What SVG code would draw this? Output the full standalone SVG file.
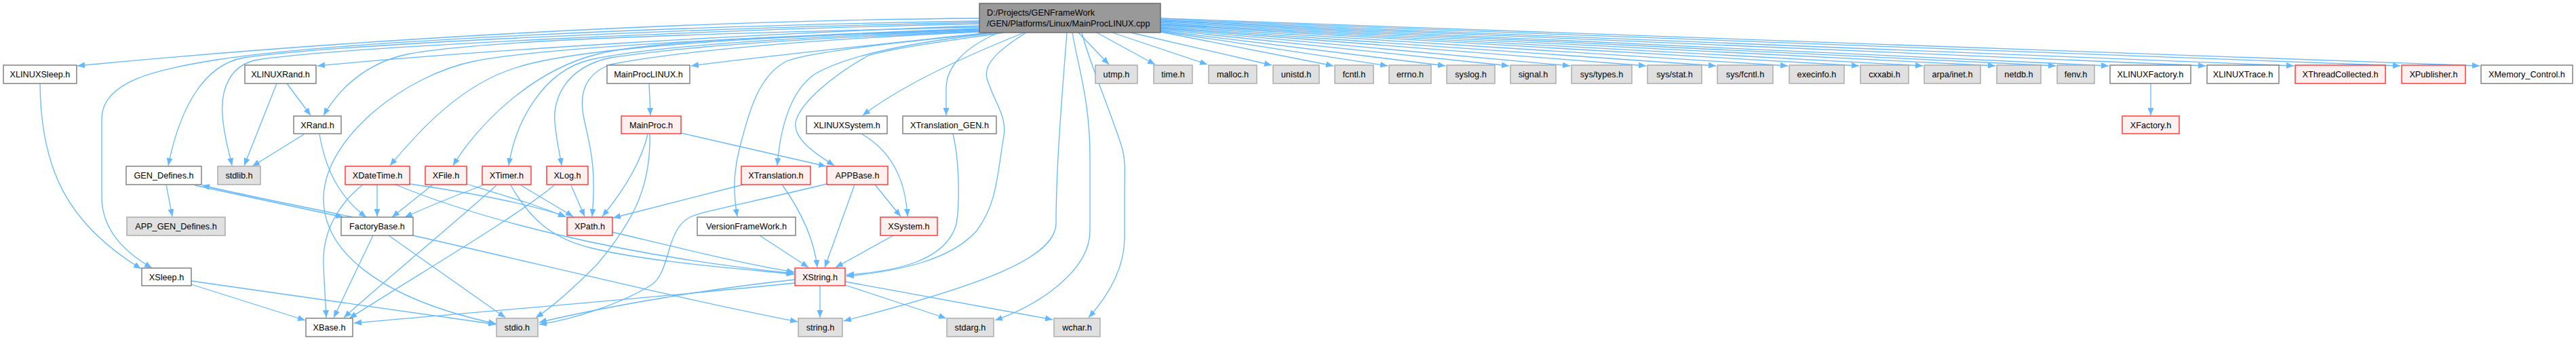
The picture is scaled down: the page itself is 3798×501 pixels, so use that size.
<svg xmlns="http://www.w3.org/2000/svg" width="3798" height="501" viewBox="0 0 3798 501">
<defs>
<marker id="ah" markerUnits="userSpaceOnUse" markerWidth="12" markerHeight="9" refX="11" refY="4.5" orient="auto">
<path d="M0,0 L11,4.5 L0,9 z" fill="#63b8ff"/>
</marker>
<style>
.e{fill:none;stroke:#63b8ff;stroke-width:1.3;marker-end:url(#ah)}
.n rect{fill:#ffffff;stroke:#7a7a7a;stroke-width:1.4}
.g rect{fill:#e0e0e0;stroke:#a8a8a8;stroke-width:1.4}
.r rect{fill:#fff0f0;stroke:#ff3030;stroke-width:1.4}
.root rect{fill:#999999;stroke:#666666;stroke-width:1.4}
text{font-family:"Liberation Sans",Arial,sans-serif;font-size:12.7px;fill:#000;text-anchor:middle}
.root text{text-anchor:start}
</style>
</defs>
<rect width="3798" height="501" fill="#ffffff"/>
<g id="edges">
<path class="e" d="M1444,27 C1000,30 500,60 114,97"/>
<path class="e" d="M1444,31 C1000,38 500,60 320,88 C230,102 150,120 150,175 L150,290 C150,340 185,372 224,395"/>
<path class="e" d="M1444,33 C1000,42 500,65 360,85 C300,95 265,160 248,244"/>
<path class="e" d="M1444,35 C1000,45 500,70 380,88 C340,95 325,130 328,170 C330,200 338,225 342,244"/>
<path class="e" d="M1444,38 C1100,50 700,75 468,97"/>
<path class="e" d="M1444,40 C1000,50 700,60 600,80 C540,93 500,130 477,170"/>
<path class="e" d="M1444,42 C1100,55 800,70 700,90 C600,110 480,200 477,290 C475,370 560,440 731,477"/>
<path class="e" d="M1444,43 C1100,55 850,70 760,100 C680,125 620,190 575,244"/>
<path class="e" d="M1444,44 C1100,55 950,62 880,80 C780,105 700,190 668,244"/>
<path class="e" d="M1444,45 C1150,55 950,70 870,88 C800,105 760,180 750,244"/>
<path class="e" d="M1444,46 C1150,58 1000,70 900,85 C830,100 815,150 818,180 C820,205 825,225 828,244"/>
<path class="e" d="M1445,47 C1200,58 1000,75 900,95 C860,110 855,140 860,170 C868,210 880,240 873,319"/>
<path class="e" d="M1460,48 C1300,65 1150,80 1019,97"/>
<path class="e" d="M1465,48 C1350,60 1200,75 1160,90 C1120,110 1105,160 1090,220 C1080,260 1082,290 1087,319"/>
<path class="e" d="M1470,48 C1350,62 1250,80 1200,110 C1165,135 1150,190 1146,244"/>
<path class="e" d="M1480,48 C1400,60 1320,70 1280,82 C1230,110 1180,150 1173,180 C1170,205 1200,225 1230,244"/>
<path class="e" d="M1510,48 C1430,80 1330,125 1272,170"/>
<path class="e" d="M1473,48 C1420,70 1395,100 1395,130 L1395,170"/>
<path class="e" d="M1513,48 C1470,75 1450,95 1455,115 C1465,150 1485,170 1480,200 C1470,260 1470,300 1440,340 C1400,385 1320,400 1248,407"/>
<path class="e" d="M1573,48 C1565,150 1557,250 1557,330 C1555,380 1450,420 1244,473"/>
<path class="e" d="M1581,48 C1590,100 1607,150 1607,230 L1607,340 C1607,400 1530,450 1467,472"/>
<path class="e" d="M1595,48 C1605,90 1640,170 1655,220 C1660,240 1658,260 1658,280 L1658,350 C1658,400 1630,440 1605,468"/>
<path class="e" d="M1590,48 L1635,95"/>
<path class="e" d="M1617,48 L1703,95"/>
<path class="e" d="M1640,48 L1780,95"/>
<path class="e" d="M1667,48 L1875,96"/>
<path class="e" d="M1711,47 L1966,97"/>
<path class="e" d="M1711,46 L2046,97"/>
<path class="e" d="M1711,45 L2131,97"/>
<path class="e" d="M1711,43.5 L2225,97"/>
<path class="e" d="M1711,42 L2315,97"/>
<path class="e" d="M1711,41 L2427,97"/>
<path class="e" d="M1711,40 L2530,97"/>
<path class="e" d="M1711,38.5 L2636,97"/>
<path class="e" d="M1711,37 L2741,97"/>
<path class="e" d="M1711,36 L2835,97"/>
<path class="e" d="M1711,35 L2942,97"/>
<path class="e" d="M1711,33.5 L3031,97"/>
<path class="e" d="M1711,32 L3109,97"/>
<path class="e" d="M1711,31 L3252,97"/>
<path class="e" d="M1711,30 L3382,97"/>
<path class="e" d="M1711,28.5 L3539,97"/>
<path class="e" d="M1711,27 L3656,97"/>
<path class="e" d="M59,123 C60,250 100,330 208,396"/>
<path class="e" d="M245,272 L254,319"/>
<path class="e" d="M287,273 L506,320"/>
<path class="e" d="M520,320 C450,305 360,288 298,273"/>
<path class="e" d="M282,419 L450,472"/>
<path class="e" d="M282,414 C400,430 600,460 731,478"/>
<path class="e" d="M423,123 L458,170"/>
<path class="e" d="M408,123 L360,244"/>
<path class="e" d="M448,198 L372,245"/>
<path class="e" d="M471,198 C480,250 500,290 540,320"/>
<path class="e" d="M556,272 L556,319"/>
<path class="e" d="M535,272 C500,300 475,340 477,390 C478,420 480,445 481,468"/>
<path class="e" d="M583,272 C700,320 900,375 1170,403"/>
<path class="e" d="M604,271 C700,285 780,300 834,319"/>
<path class="e" d="M637,273 L578,320"/>
<path class="e" d="M688,271 C750,290 800,305 834,320"/>
<path class="e" d="M712,273 C680,285 630,305 597,320"/>
<path class="e" d="M732,273 C680,320 560,420 507,468"/>
<path class="e" d="M768,273 L845,319"/>
<path class="e" d="M753,273 C780,320 810,350 870,365 C950,385 1080,395 1171,404"/>
<path class="e" d="M842,273 L862,319"/>
<path class="e" d="M817,273 C760,320 640,390 515,469"/>
<path class="e" d="M550,347 L492,468"/>
<path class="e" d="M573,347 L745,468"/>
<path class="e" d="M609,347 C800,390 1000,440 1176,474"/>
<path class="e" d="M903,342 C1000,365 1100,390 1171,401"/>
<path class="e" d="M957,123 L959,170"/>
<path class="e" d="M955,198 C945,240 920,280 888,319"/>
<path class="e" d="M958,198 C960,280 930,330 880,390 C840,430 810,455 790,468"/>
<path class="e" d="M1004,196 L1218,245"/>
<path class="e" d="M1096,272 L904,321"/>
<path class="e" d="M1153,272 C1180,310 1200,350 1205,394"/>
<path class="e" d="M1260,272 L1216,394"/>
<path class="e" d="M1290,272 L1328,319"/>
<path class="e" d="M1219,271 C1100,300 1040,310 1017,320 C980,340 990,400 960,420 C920,445 850,470 795,478"/>
<path class="e" d="M1270,197 C1310,220 1335,260 1338,319"/>
<path class="e" d="M1317,347 L1232,394"/>
<path class="e" d="M1405,197 C1415,240 1415,300 1410,330 C1395,385 1320,400 1248,405"/>
<path class="e" d="M1120,347 L1192,394"/>
<path class="e" d="M1209,421 L1209,468"/>
<path class="e" d="M1172,412 C1050,425 900,450 795,475"/>
<path class="e" d="M1172,417 C950,440 700,460 522,476"/>
<path class="e" d="M1246,420 L1395,469"/>
<path class="e" d="M1246,415 L1552,471"/>
<path class="e" d="M3171,123 L3171,170"/>
</g>
<g id="root" class="root"><rect x="1444" y="5" width="267" height="43"/><text x="1455" y="23">D:/Projects/GENFrameWork</text><text x="1455" y="39">/GEN/Platforms/Linux/MainProcLINUX.cpp</text></g>
<g id="XLINUXSleep" class="n"><rect x="5" y="96" width="108" height="27"/><text x="59" y="114">XLINUXSleep.h</text></g>
<g id="XLINUXRand" class="n"><rect x="361" y="96" width="105" height="27"/><text x="413.5" y="114">XLINUXRand.h</text></g>
<g id="MainProcLINUX" class="n"><rect x="895" y="96" width="122" height="27"/><text x="956" y="114">MainProcLINUX.h</text></g>
<g id="utmp" class="g"><rect x="1615" y="96" width="62" height="27"/><text x="1646" y="114">utmp.h</text></g>
<g id="time" class="g"><rect x="1701" y="96" width="57" height="27"/><text x="1729.5" y="114">time.h</text></g>
<g id="malloc" class="g"><rect x="1782" y="96" width="71" height="27"/><text x="1817.5" y="114">malloc.h</text></g>
<g id="unistd" class="g"><rect x="1877" y="96" width="68" height="27"/><text x="1911" y="114">unistd.h</text></g>
<g id="fcntl" class="g"><rect x="1968" y="96" width="57" height="27"/><text x="1996.5" y="114">fcntl.h</text></g>
<g id="errno" class="g"><rect x="2048" y="96" width="62" height="27"/><text x="2079" y="114">errno.h</text></g>
<g id="syslog" class="g"><rect x="2133" y="96" width="71" height="27"/><text x="2168.5" y="114">syslog.h</text></g>
<g id="signal" class="g"><rect x="2227" y="96" width="67" height="27"/><text x="2260.5" y="114">signal.h</text></g>
<g id="systypes" class="g"><rect x="2317" y="96" width="89" height="27"/><text x="2361.5" y="114">sys/types.h</text></g>
<g id="sysstat" class="g"><rect x="2429" y="96" width="80" height="27"/><text x="2469" y="114">sys/stat.h</text></g>
<g id="sysfcntl" class="g"><rect x="2532" y="96" width="82" height="27"/><text x="2573" y="114">sys/fcntl.h</text></g>
<g id="execinfo" class="g"><rect x="2638" y="96" width="81" height="27"/><text x="2678.5" y="114">execinfo.h</text></g>
<g id="cxxabi" class="g"><rect x="2743" y="96" width="71" height="27"/><text x="2778.5" y="114">cxxabi.h</text></g>
<g id="arpainet" class="g"><rect x="2837" y="96" width="83" height="27"/><text x="2878.5" y="114">arpa/inet.h</text></g>
<g id="netdb" class="g"><rect x="2944" y="96" width="65" height="27"/><text x="2976.5" y="114">netdb.h</text></g>
<g id="fenv" class="g"><rect x="3033" y="96" width="55" height="27"/><text x="3060.5" y="114">fenv.h</text></g>
<g id="XLINUXFactory" class="n"><rect x="3111" y="96" width="119" height="27"/><text x="3170.5" y="114">XLINUXFactory.h</text></g>
<g id="XLINUXTrace" class="n"><rect x="3254" y="96" width="106" height="27"/><text x="3307" y="114">XLINUXTrace.h</text></g>
<g id="XThreadCollected" class="r"><rect x="3384" y="96" width="133" height="27"/><text x="3450.5" y="114">XThreadCollected.h</text></g>
<g id="XPublisher" class="r"><rect x="3541" y="96" width="94" height="27"/><text x="3588" y="114">XPublisher.h</text></g>
<g id="XMemory_Control" class="n"><rect x="3658" y="96" width="135" height="27"/><text x="3725.5" y="114">XMemory_Control.h</text></g>
<g id="XRand" class="n"><rect x="433" y="171" width="70" height="26"/><text x="468" y="188.5">XRand.h</text></g>
<g id="MainProc" class="r"><rect x="916" y="171" width="88" height="26"/><text x="960" y="188.5">MainProc.h</text></g>
<g id="XLINUXSystem" class="n"><rect x="1189" y="171" width="119" height="26"/><text x="1248.5" y="188.5">XLINUXSystem.h</text></g>
<g id="XTranslation_GEN" class="n"><rect x="1331" y="171" width="138" height="26"/><text x="1400" y="188.5">XTranslation_GEN.h</text></g>
<g id="XFactory" class="r"><rect x="3129" y="171" width="84" height="26"/><text x="3171" y="188.5">XFactory.h</text></g>
<g id="GEN_Defines" class="n"><rect x="186" y="245" width="111" height="27"/><text x="241.5" y="263">GEN_Defines.h</text></g>
<g id="stdlib" class="g"><rect x="321" y="245" width="63" height="27"/><text x="352.5" y="263">stdlib.h</text></g>
<g id="XDateTime" class="r"><rect x="509" y="245" width="95" height="27"/><text x="556.5" y="263">XDateTime.h</text></g>
<g id="XFile" class="r"><rect x="627" y="245" width="61" height="27"/><text x="657.5" y="263">XFile.h</text></g>
<g id="XTimer" class="r"><rect x="711" y="245" width="72" height="27"/><text x="747" y="263">XTimer.h</text></g>
<g id="XLog" class="r"><rect x="806" y="245" width="61" height="27"/><text x="836.5" y="263">XLog.h</text></g>
<g id="XTranslation" class="r"><rect x="1093" y="245" width="102" height="27"/><text x="1144" y="263">XTranslation.h</text></g>
<g id="APPBase" class="r"><rect x="1219" y="245" width="90" height="27"/><text x="1264" y="263">APPBase.h</text></g>
<g id="APP_GEN_Defines" class="g"><rect x="187" y="320" width="145" height="27"/><text x="259.5" y="338">APP_GEN_Defines.h</text></g>
<g id="FactoryBase" class="n"><rect x="503" y="320" width="106" height="27"/><text x="556" y="338">FactoryBase.h</text></g>
<g id="XPath" class="r"><rect x="836" y="320" width="67" height="27"/><text x="869.5" y="338">XPath.h</text></g>
<g id="VersionFrameWork" class="n"><rect x="1028" y="320" width="145" height="27"/><text x="1100.5" y="338">VersionFrameWork.h</text></g>
<g id="XSystem" class="r"><rect x="1298" y="320" width="84" height="27"/><text x="1340" y="338">XSystem.h</text></g>
<g id="XSleep" class="n"><rect x="209" y="395" width="73" height="26"/><text x="245.5" y="412.5">XSleep.h</text></g>
<g id="XString" class="r"><rect x="1172" y="395" width="74" height="26"/><text x="1209" y="412.5">XString.h</text></g>
<g id="XBase" class="n"><rect x="451" y="469" width="69" height="27"/><text x="485.5" y="487">XBase.h</text></g>
<g id="stdio" class="g"><rect x="732" y="469" width="61" height="27"/><text x="762.5" y="487">stdio.h</text></g>
<g id="string" class="g"><rect x="1177" y="469" width="65" height="27"/><text x="1209.5" y="487">string.h</text></g>
<g id="stdarg" class="g"><rect x="1396" y="469" width="69" height="27"/><text x="1430.5" y="487">stdarg.h</text></g>
<g id="wchar" class="g"><rect x="1554" y="469" width="68" height="27"/><text x="1588" y="487">wchar.h</text></g>
</svg>
